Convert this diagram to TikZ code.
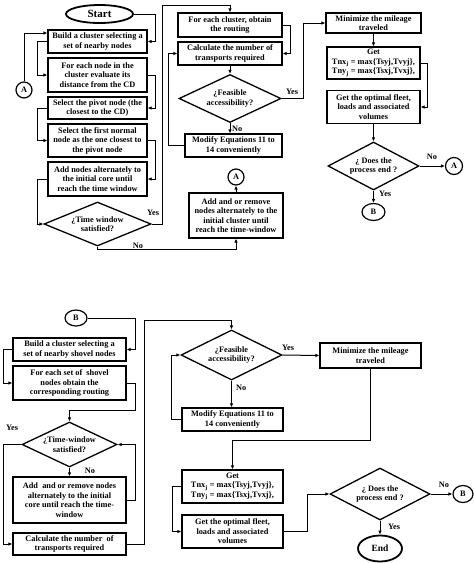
\documentclass[tikz,border=0pt]{standalone}
\usepackage{fontspec}
\setmainfont{Liberation Serif}
\usetikzlibrary{shapes.geometric,arrows.meta}
\begin{document}
\begin{tikzpicture}[x=1pt,y=-1pt,
  txt/.style={font=\bfseries\fontsize{8.3}{9.5}\selectfont, align=center},
  box/.style={txt, draw, line width=1.3pt, rectangle, inner sep=1pt},
  dia/.style={txt, draw, diamond, shape aspect=2.1, inner sep=0pt, line width=1.3pt},
  term/.style={txt, draw, ellipse, line width=1.8pt, inner sep=0pt},
  con/.style={txt, draw, circle, line width=1.2pt, inner sep=0pt, minimum size=16pt},
  cone/.style={txt, draw, ellipse, line width=1.2pt, inner sep=0pt},
  arr/.style={line width=1pt, -{Latex[length=4pt,width=3.6pt]}},
  lbl/.style={font=\bfseries\fontsize{8.3}{9.5}\selectfont, inner sep=0pt}]
\useasboundingbox (0,0) rectangle (474,563);
% ---------- top part ----------
\node[term, minimum width=67pt, minimum height=18pt, font=\bfseries\fontsize{11}{12}\selectfont] (start) at (99.5,14) {Start};
\node[box, minimum width=99pt, minimum height=23pt] (b1) at (97.5,41.5) {Build a cluster selecting a\\set of nearby nodes};
\node[box, minimum width=99pt, minimum height=34pt] (b2) at (97.5,75) {For each node in the\\cluster evaluate its\\distance from the CD};
\node[box, minimum width=99pt, minimum height=22pt] (b3) at (97.5,108) {Select the pivot node (the\\closest to the CD)};
\node[box, minimum width=99pt, minimum height=33pt] (b4) at (97.5,140.5) {Select the first normal\\node as the one closest to\\the pivot node};
\node[box, minimum width=99pt, minimum height=34pt] (b5) at (97.5,179) {Add nodes alternately to\\the initial core until\\reach the time window};
\node[dia, minimum width=107pt, minimum height=44pt] (d1) at (97.5,224) {¿Time window\\satisfied?};
\node[con] (A1) at (24,90) {A};

\node[box, minimum width=104pt, minimum height=24pt] (fc) at (230,25) {For each cluster, obtain\\the routing};
\node[box, minimum width=104pt, minimum height=23pt] (calc) at (230,53.5) {Calculate the number of\\transports required};
\node[dia, minimum width=102pt, minimum height=48pt] (d2) at (230,98.5) {¿Feasible\\accessibility?};
\node[box, minimum width=97pt, minimum height=23pt] (mod) at (233.5,145.5) {Modify Equations 11 to\\14 conveniently};
\node[con] (A2) at (236,177) {A};
\node[box, minimum width=94pt, minimum height=45pt] (ar) at (236,215.5) {Add and or remove\\nodes alternately to the\\initial cluster until\\reach the time-window};

\node[box, minimum width=95pt, minimum height=20pt] (min) at (373.5,23) {Minimize the mileage\\traveled};
\node[box, minimum width=93pt, minimum height=32pt] (get) at (373.5,63) {Get\\Tnx\textsubscript{j} = max\{Tsyj,Tvyj\},\\Tny\textsubscript{j} = max\{Tsxj,Tvxj\},};
\node[box, minimum width=93pt, minimum height=33pt] (opt) at (373.5,107) {Get the optimal fleet,\\loads and associated\\volumes};
\node[dia, minimum width=91pt, minimum height=48pt] (d3) at (373.5,166) {¿ Does the\\process end ?};
\node[con, minimum size=17pt] (A3) at (454,166) {A};
\node[cone, minimum width=23pt, minimum height=17pt] (B1) at (373.5,212) {B};

\draw[arr] (start.east) -- (155,14) |- (b1.east);
\draw[arr] (A1.north) |- ([yshift=8.5pt]b1.west);
\draw[arr] (b1.west) -- ++(-10,0) |- (b2.west);
\draw[arr] (b2.east) -- ++(8,0) |- (b3.east);
\draw[arr] (b3.west) -- ++(-10,0) |- (b4.west);
\draw[arr] (b4.east) -- ++(8,0) |- (b5.east);
\draw[arr] (b5.west) -- ++(-10,0) |- (d1.west);
\draw[arr] (d1.east) -- (162,224) -- (162,5) -| (fc.north);
\draw[arr] (d1.south) -- ++(0,3) -| (ar.south);
\draw[arr] (fc.east) -- ++(8,0) |- (calc.east);
\draw[arr] (calc.south) -- (d2.north);
\draw[arr] (d2.south) -- (d2.south |- mod.north);
\draw[arr] (mod.west) -- (168,145.5) |- (calc.west);
\draw[arr] (ar.north) -- (A2.south);
\draw[arr] (d2.east) -- (303,98.5) |- (min.west);
\draw[arr] (min.south) -- (get.north);
\draw[arr] (get.east) -- ++(7,0) |- (opt.east);
\draw[arr] (opt.south) -- (d3.north);
\draw[arr] (d3.east) -- (A3.west);
\draw[arr] (d3.south) -- (B1.north);

\node[lbl] at (153,213) {Yes};
\node[lbl] at (138,246) {No};
\node[lbl] at (292,92) {Yes};
\node[lbl, anchor=west] at (232,129) {No};
\node[lbl] at (432,157) {No};
\node[lbl, anchor=west] at (379,194) {Yes};

% ---------- bottom part ----------
\node[cone, minimum width=22pt, minimum height=16pt] (B2) at (76,318) {B};
\node[box, minimum width=113pt, minimum height=23pt] (bb1) at (69.5,349.5) {Build a cluster selecting a\\set of nearby shovel nodes};
\node[box, minimum width=113pt, minimum height=34pt] (bb2) at (69.5,383) {For each set of\ \ shovel\\nodes obtain the\\corresponding routing};
\node[dia, minimum width=95pt, minimum height=45pt] (dd1) at (69.5,444.5) {¿Time-window\\satisfied?};
\node[box, minimum width=113pt, minimum height=46pt] (ba) at (69.5,500) {Add\ \ and or remove nodes\\alternately to the initial\\core until reach the time-\\window};
\node[box, minimum width=113pt, minimum height=22pt] (bc) at (69.5,544) {Calculate the number\ \ of\\transports required};

\node[dia, minimum width=101pt, minimum height=50pt] (dd2) at (231.5,355) {¿Feasible\\accessibility?};
\node[box, minimum width=101pt, minimum height=23pt] (bmod) at (232.5,419.5) {Modify Equations 11 to\\14 conveniently};
\node[box, minimum width=101pt, minimum height=25pt] (bmin) at (370.5,355.5) {Minimize the mileage\\traveled};
\node[box, minimum width=101pt, minimum height=33pt] (bget) at (232.5,486.5) {Get\\Tnx\textsubscript{j} = max\{Tsyj,Tvyj\},\\Tny\textsubscript{j} = max\{Tsxj,Tvxj\},};
\node[box, minimum width=101pt, minimum height=33pt] (bopt) at (232.5,531.5) {Get the optimal fleet,\\loads and associated\\volumes};
\node[dia, minimum width=100pt, minimum height=52pt] (dd3) at (380,494) {¿ Does the\\process end ?};
\node[cone, minimum width=20pt, minimum height=17pt] (B3) at (463,494) {B};
\node[term, minimum width=44pt, minimum height=26pt, font=\bfseries\fontsize{9.5}{11}\selectfont] (end) at (380,548.5) {End};

\coordinate (k1) at (69.5,410);
\coordinate (k2) at (231.5,320);
\coordinate (k3) at (232.5,440);
\draw[arr] (B2.east) -- (135,318) |- (bb1.east);
\draw[arr] (bb1.west) -- (3,349.5) |- (bb2.west);
\draw[arr] (bb2.east) -- (135,383) |- (k1) -- (dd1.north);
\draw[arr] (dd1.west) -- (3,444.5) |- (bc.west);
\draw[arr] (dd1.south) -- (ba.north);
\draw[arr] (ba.east) -- (135,500) |- (dd1.east);
\draw[arr] (bc.east) -- (144,544) |- (k2) -- (dd2.north);
\draw[arr] (dd2.east) -- (bmin.west);
\draw[arr] (dd2.south) -- (dd2.south |- bmod.north);
\draw[arr] (bmod.west) -- (171,419.5) |- (dd2.west);
\draw[arr] (bmin.south) |- (k3) -- (bget.north);
\draw[arr] (bget.west) -- (172,486.5) |- (bopt.west);
\draw[arr] (bopt.east) -- (307,531.5) |- (dd3.west);
\draw[arr] (dd3.east) -- (B3.west);
\draw[arr] (dd3.south) -- (end.north);

\node[lbl] at (12,428) {Yes};
\node[lbl] at (90,471) {No};
\node[lbl] at (288,348) {Yes};
\node[lbl, anchor=west] at (236,388) {No};
\node[lbl] at (444,485) {No};
\node[lbl] at (394,527) {Yes};
\end{tikzpicture}
\end{document}
